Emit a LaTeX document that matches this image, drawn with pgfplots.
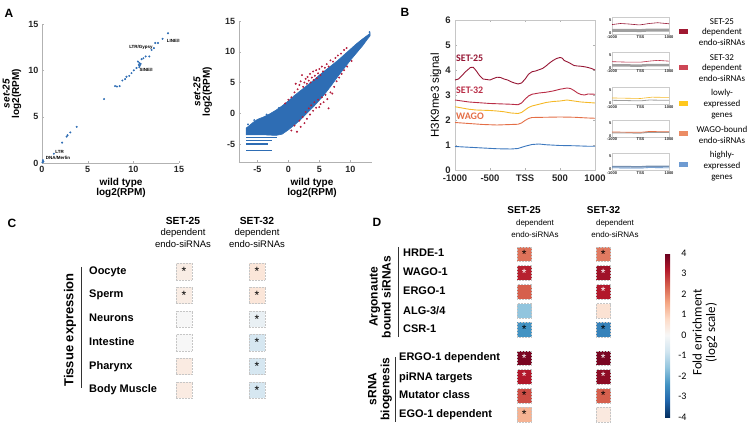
\documentclass[border=0pt]{standalone}
\usepackage{pgfplots}
\pgfplotsset{compat=1.18}
\usepackage{fontspec}
\setmainfont{Liberation Sans}
\newfontfamily\carl{Carlito}
\newcommand\fsz[2]{\fontsize{#1}{#2}\selectfont}

\definecolor{scblue}{RGB}{46,109,180}
\definecolor{scred}{RGB}{180,30,60}
\definecolor{c25}{RGB}{150,22,52}
\definecolor{c32}{RGB}{185,45,70}
\definecolor{cyel}{RGB}{245,185,40}
\definecolor{cora}{RGB}{228,110,70}
\definecolor{cblu}{RGB}{60,120,190}
\definecolor{l25}{RGB}{160,25,50}
\definecolor{l32}{RGB}{205,70,85}
\definecolor{lyel}{RGB}{255,200,30}
\definecolor{lora}{RGB}{235,140,100}
\definecolor{lblu}{RGB}{110,155,210}

\tikzset{myRow/.style={anchor=west, font=\bfseries\fsz{11}{11}, text height=8pt, text depth=2pt, inner sep=0pt}}

\pgfplotsset{
  colormap={rdbu}{rgb255=(5,48,97) rgb255=(33,102,172) rgb255=(67,147,195)
    rgb255=(146,197,222) rgb255=(209,229,240) rgb255=(247,247,247)
    rgb255=(253,219,199) rgb255=(244,165,130) rgb255=(214,96,77)
    rgb255=(178,24,43) rgb255=(103,0,31)},
  myPanel/.style={scale only axis, anchor=south west, clip=false,
    point meta=none,
    /pgf/number format/assume math mode=true,
    tick label style={font=\bfseries\fsz{9}{9}, text=black!85},
    axis line style={gray!60}, tick style={gray!60},
    tick align=inside, major tick length=2pt},
  mySmall/.style={myPanel, width=57pt, height=17pt,
    xmin=-1000, xmax=1000, ymin=0, ymax=6.5,
    xtick={-1000,0,1000}, xticklabels={-1000,TSS,1000}, ytick={0,5},
    tick label style={font=\bfseries\fsz{4}{4}, inner sep=0.5pt},
    yticklabel style={yshift=1.2pt}, xticklabel style={yshift=-0.3pt},
    major tick length=0pt, axis line style={gray!40}},
  myHeat/.style={scale only axis, anchor=south west, hide axis, clip=false,
    colormap name=rdbu, point meta min=-4, point meta max=4,
    xmin=-0.5, xmax=1.5},
  myCells/.style={scatter, only marks, mark=square*, mark size=#1,
    scatter/use mapped color={draw=gray!45, fill=mapped color},
    mark options={densely dotted, line width=0.5pt}},
  myStars/.style={draw=none, mark=none, point meta=none, nodes near coords={*},
    every node near coord/.append style={anchor=center, font=\fsz{12}{12}, text=#1}},
}

\begin{document}
\begin{tikzpicture}
\path[use as bounding box] (0,0) rectangle (754pt,428pt);

% panel letters
\node[font=\bfseries\fsz{12}{12}] at (9pt,415pt) {A};
\node[font=\bfseries\fsz{12}{12}] at (405pt,416pt) {B};
\node[font=\bfseries\fsz{12}{12}] at (12pt,205pt) {C};
\node[font=\bfseries\fsz{12}{12}] at (377pt,206pt) {D};

% ---------- A left: repeats ----------
\begin{axis}[myPanel, at={(42pt,265pt)}, width=137pt, height=139pt,
  xmin=0, xmax=15, ymin=0, ymax=15,
  axis x line*=bottom, axis y line*=left,
  x axis line style={-}, y axis line style={-},
  xtick={0,5,10,15}, ytick={0,5,10,15},
  xlabel={wild type\\log2(RPM)}, ylabel={\textit{set-25}\\log2(RPM)},
  xlabel style={at={(axis description cs:0.577,-0.18)}, anchor=center, align=center, font=\bfseries\fsz{10}{10.5}},
  ylabel style={at={(axis description cs:-0.22,0.5)}, anchor=center, align=center, font=\bfseries\fsz{10}{9.5}}]
\addplot[only marks, mark=*, mark size=0.8pt, scblue] coordinates {
 (0.05,0.07) (0.1,0.3) (0.15,0.15) (1.3,1.0) (2.2,2.2) (2.7,2.85) (2.8,3.0)
 (3.1,3.3) (3.8,3.9) (6.8,6.9) (8.0,8.3) (8.2,8.25) (8.5,8.3) (8.8,8.9)
 (9.1,9.05) (9.25,9.3) (9.55,9.4) (9.8,9.7) (10.05,10.0) (10.35,10.25)
 (10.6,10.6) (10.65,10.8) (10.5,10.95) (10.7,10.5) (10.65,10.35) (10.8,10.7)
 (10.9,11.2) (11.1,11.3) (11.35,11.5) (11.75,11.5) (12.0,12.2) (12.25,12.4)
 (12.4,12.95) (12.7,12.95) (13.2,13.4) (13.8,14.0)};
\node[anchor=west, font=\bfseries\fsz{4.5}{5}, inner sep=0.5pt] at (axis cs:13.6,13.2) {LINE/I};
\node[anchor=east, font=\bfseries\fsz{4.5}{5}, inner sep=0.5pt] at (axis cs:12.2,12.5) {LTR/Gypsy};
\node[anchor=west, font=\bfseries\fsz{4.5}{5}, inner sep=0.5pt] at (axis cs:10.6,10.0) {SINE/I};
\node[anchor=west, font=\bfseries\fsz{4.5}{5}, inner sep=0.5pt] at (axis cs:1.4,1.2) {LTR};
\node[anchor=west, font=\bfseries\fsz{4.5}{5}, inner sep=0.5pt] at (axis cs:0.35,0.5) {DNA/Merlin};
\end{axis}

% ---------- A right: small RNAs ----------
\begin{axis}[myPanel, at={(238.7pt,265.5pt)}, width=133.3pt, height=141.5pt,
  xmin=-8, xmax=13.5, ymin=-8, ymax=15,
  axis x line*=bottom, axis y line*=left,
  x axis line style={-}, y axis line style={-},
  xtick={-5,0,5,10}, ytick={-5,0,5,10,15},
  xlabel={wild type\\log2(RPM)}, ylabel={\textit{set-25}\\log2(RPM)},
  xlabel style={at={(axis description cs:0.55,-0.18)}, anchor=center, align=center, font=\bfseries\fsz{10}{10.5}},
  ylabel style={at={(axis description cs:-0.27,0.5)}, anchor=center, align=center, font=\bfseries\fsz{10}{9.5}}]
\addplot[fill=scblue, draw=scblue, line width=0.6pt] coordinates {
 (13.2,13.0) (12.0,12.1) (11.0,11.3) (10.0,10.4) (9.0,9.5) (8.0,8.6) (7.0,7.8)
 (6.0,7.0) (5.0,6.2) (4.0,5.3) (3.0,4.5) (2.0,3.7) (1.0,2.9) (0.0,2.0)
 (-1.0,1.2) (-2.0,0.5) (-3.0,-0.1) (-4.0,-0.6) (-5.0,-1.0) (-5.7,-1.5)
 (-6.4,-2.1) (-6.8,-2.4) (-6.8,-3.5) (-4.0,-3.5) (-2.0,-3.6) (-1.0,-3.4)
 (0.0,-2.7) (1.0,-1.9) (2.0,-1.0) (3.0,0.0) (4.0,1.0) (5.0,2.1) (6.0,3.3)
 (7.0,4.6) (8.0,6.0) (9.0,7.3) (10.0,8.6) (11.0,9.8) (12.0,11.0) (12.8,12.1)
 (13.2,12.6)} -- cycle;
\addplot[scblue, line width=1.3pt] coordinates {(-6.8,-3.9) (-1.8,-3.9)};
\addplot[scblue, line width=1.3pt] coordinates {(-6.8,-4.4) (-2.6,-4.4)};
\addplot[scblue, line width=1.3pt] coordinates {(-6.8,-5.0) (-3.2,-5.0)};
\addplot[scblue, line width=1.3pt] coordinates {(-6.8,-6.0) (-2.6,-6.0)};
\addplot[only marks, mark=*, mark size=0.7pt, scblue] coordinates {
 (13.1,13.2) (12.6,12.3) (-6.5,-1.8) (-5.5,-1.1) (-3.5,-0.2) (-1.5,0.9)};
\addplot[only marks, mark=*, mark size=0.75pt, scred] coordinates {
 (1.0,3.4) (1.5,3.9) (1.8,4.6) (2.0,5.2) (2.2,6.2) (2.4,4.3) (2.6,5.0) (2.8,5.6)
 (3.0,4.8) (3.1,5.9) (3.3,5.3) (3.5,6.4) (3.6,5.0) (3.8,5.8) (4.0,6.8) (4.1,5.4)
 (4.3,6.1) (4.5,7.0) (4.6,5.7) (4.8,6.5) (5.0,7.2) (5.2,6.2) (5.4,7.6) (5.6,6.8)
 (5.9,7.4) (6.2,8.0) (6.5,7.6) (6.8,8.6) (7.2,8.4) (7.6,9.0) (8.0,9.4) (8.5,9.7)
 (9.0,10.3) (9.4,10.6) (0.5,2.6) (0.0,2.2) (-0.5,1.6) (1.2,4.8)
 (0.5,-2.8) (1.0,-2.0) (1.4,-3.0) (1.8,-1.2) (2.0,-2.2) (2.3,-0.6) (2.6,-1.6)
 (2.8,0.2) (3.0,-0.9) (3.3,0.8) (3.5,-0.2) (3.7,1.3) (4.0,0.4) (4.2,1.8)
 (4.5,0.9) (4.8,2.2) (5.0,1.0) (5.2,1.5) (5.4,2.6) (5.7,1.8) (6.0,3.0)
 (6.3,2.3) (6.5,0.8) (6.8,3.4) (7.1,3.2) (7.4,4.3) (7.8,5.2) (8.2,5.8)
 (8.6,6.4) (9.0,7.0) (9.5,7.6) (10.2,8.5)};
\end{axis}

% ---------- B main ----------
\begin{axis}[myPanel, at={(455pt,257.5pt)}, width=140pt, height=150pt,
  xmin=-1000, xmax=1000, ymin=0, ymax=6,
  xtick={-1000,-500,0,500,1000}, xticklabels={-1000,-500,TSS,500,1000},
  ytick={0,1,2,3,4,5,6}, axis line style={gray!45},
  tick label style={font=\bfseries\fsz{9.5}{10}},
  xticklabel style={yshift=-1.2pt}, yticklabel style={xshift=-0.8pt},
  ylabel={H3K9me3 signal},
  ylabel style={at={(axis description cs:-0.136,0.5)}, anchor=center, font=\fsz{11.5}{12}}]
\addplot[c25, line width=0.9pt] coordinates {
 (-1000,3.62) (-950,3.66) (-900,3.8) (-850,3.95) (-780,4.12) (-740,4.13)
 (-700,4.0) (-650,3.8) (-600,3.66) (-550,3.64) (-500,3.62) (-450,3.68)
 (-400,3.73) (-350,3.72) (-300,3.66) (-250,3.62) (-200,3.55) (-150,3.5)
 (-100,3.46) (-50,3.5) (0,3.65) (50,3.85) (100,3.95) (150,3.98) (200,4.03)
 (250,4.08) (300,4.18) (350,4.3) (400,4.4) (450,4.48) (500,4.52) (530,4.5)
 (560,4.4) (600,4.35) (650,4.28) (700,4.2) (750,4.18) (800,4.17) (850,4.15)
 (900,4.12) (950,4.08) (1000,4.02)};
\addplot[c32, line width=0.9pt] coordinates {
 (-1000,2.82) (-900,2.78) (-800,2.74) (-700,2.72) (-600,2.70) (-500,2.68)
 (-400,2.67) (-300,2.66) (-200,2.65) (-100,2.63) (-50,2.7) (0,2.85) (50,2.98)
 (100,3.05) (200,3.1) (300,3.13) (400,3.18) (500,3.25) (600,3.3) (650,3.28)
 (700,3.2) (750,3.1) (800,3.04) (850,3.02) (900,3.06) (1000,3.05)};
\addplot[cyel, line width=0.9pt] coordinates {
 (-1000,2.55) (-900,2.5) (-800,2.45) (-700,2.42) (-600,2.41) (-500,2.4)
 (-400,2.38) (-300,2.35) (-200,2.3) (-100,2.28) (-50,2.32) (0,2.42) (50,2.52)
 (100,2.58) (200,2.65) (300,2.72) (400,2.76) (500,2.78) (600,2.82) (700,2.78)
 (800,2.74) (900,2.72) (1000,2.7)};
\addplot[cora, line width=0.9pt] coordinates {
 (-1000,1.92) (-800,1.88) (-600,1.84) (-400,1.82) (-200,1.84) (-100,1.85)
 (-50,1.9) (0,2.0) (50,2.08) (100,2.12) (300,2.13) (500,2.14) (700,2.13)
 (900,2.1) (1000,2.09)};
\addplot[cblu, line width=0.9pt] coordinates {
 (-1000,0.96) (-800,0.93) (-600,0.9) (-400,0.87) (-200,0.86) (-100,0.88)
 (0,0.97) (100,1.04) (200,1.06) (300,1.03) (500,1.0) (700,0.99) (900,0.97)
 (1000,0.97)};
\end{axis}
\node[anchor=west, inner sep=0pt, font=\carl\bfseries\fsz{10}{10}, text=c25] at (456pt,369.7pt) {SET-25};
\node[anchor=west, inner sep=0pt, font=\carl\bfseries\fsz{10}{10}, text=c32] at (456pt,337.3pt) {SET-32};
\node[anchor=west, inner sep=0pt, font=\carl\bfseries\fsz{10}{10}, text=cora] at (456pt,312pt) {WAGO};

% ---------- B small panels ----------
\begin{axis}[mySmall, at={(612pt,393.5pt)}]
\addplot[gray!75, line width=3pt] coordinates {(-1000,1.6) (-500,1.6) (0,1.5) (300,1.7) (1000,1.7)};
\addplot[c25, line width=0.6pt] coordinates {(-1000,3.8) (-700,4.2) (-400,4.0) (-100,3.7) (0,3.7) (300,4.2) (600,4.5) (1000,4.1)};
\end{axis}
\begin{axis}[mySmall, at={(612pt,359pt)}]
\addplot[gray!75, line width=2.5pt] coordinates {(-1000,1.4) (0,1.3) (300,1.5) (1000,1.5)};
\addplot[c32, line width=0.6pt] coordinates {(-1000,2.8) (-400,2.6) (0,2.6) (300,3.0) (600,3.3) (1000,3.0)};
\end{axis}
\begin{axis}[mySmall, at={(612pt,323.5pt)}]
\addplot[gray!75, line width=0.8pt] coordinates {(-1000,1.6) (0,1.4) (300,1.7) (1000,1.6)};
\addplot[cyel, line width=0.6pt] coordinates {(-1000,2.5) (0,2.3) (400,2.8) (1000,2.7)};
\end{axis}
\begin{axis}[mySmall, at={(612pt,291pt)}]
\addplot[gray!75, line width=1pt] coordinates {(-1000,1.6) (0,1.5) (300,1.8) (1000,1.8)};
\addplot[cora, line width=0.7pt] coordinates {(-1000,1.9) (0,1.8) (300,2.1) (1000,2.0)};
\end{axis}
\begin{axis}[mySmall, at={(612pt,257.5pt)}]
\addplot[lblu!60!gray, line width=1.5pt] coordinates {(-1000,1.5) (0,1.4) (300,1.6) (1000,1.6)};
\addplot[cblu, line width=0.6pt] coordinates {(-1000,1.0) (0,0.9) (300,1.1) (1000,1.0)};
\end{axis}

% legend of B
\fill[l25] (679pt,393.5pt) rectangle (688pt,398.5pt);
\fill[l32] (679pt,357.5pt) rectangle (688pt,362.5pt);
\fill[lyel] (679pt,321.5pt) rectangle (688pt,326.5pt);
\fill[lora] (679pt,291.5pt) rectangle (688pt,296.5pt);
\fill[lblu] (679pt,260.5pt) rectangle (688pt,265.5pt);
\node[align=center, inner sep=0pt, font=\carl\fsz{9}{10.7}] at (722pt,396pt) {SET-25\\dependent\\endo-siRNAs};
\node[align=center, inner sep=0pt, font=\carl\fsz{9}{10.7}] at (722pt,360pt) {SET-32\\dependent\\endo-siRNAs};
\node[align=center, inner sep=0pt, font=\carl\fsz{9}{10.7}] at (722pt,324pt) {lowly-\\expressed\\genes};
\node[align=center, inner sep=0pt, font=\carl\fsz{9}{10.7}] at (722pt,293pt) {WAGO-bound\\endo-siRNAs};
\node[align=center, inner sep=0pt, font=\carl\fsz{9}{10.7}] at (722pt,262pt) {highly-\\expressed\\genes};

% ---------- C: tissue expression ----------
\node[font=\bfseries\fsz{10.3}{10.3}] at (183pt,207pt) {SET-25};
\node[font=\bfseries\fsz{10.3}{10.3}] at (257pt,207pt) {SET-32};
\node[align=center, font=\fsz{9.5}{12}] at (183pt,190pt) {dependent\\endo-siRNAs};
\node[align=center, font=\fsz{9.5}{12}] at (257pt,190pt) {dependent\\endo-siRNAs};
\node[myRow] at (89pt,156pt) {Oocyte};
\node[myRow] at (89pt,133pt) {Sperm};
\node[myRow] at (89pt,109pt) {Neurons};
\node[myRow] at (89pt,85pt) {Intestine};
\node[myRow] at (89pt,61pt) {Pharynx};
\node[myRow] at (89pt,38pt) {Body Muscle};
\draw[black!80, line width=0.8pt] (81pt,161pt) -- (81pt,40pt);
\node[rotate=90, font=\bfseries\fsz{13}{13}] at (70pt,98pt) {Tissue expression};

\begin{axis}[myHeat, at={(147.5pt,26.2pt)}, width=146pt, height=142pt, ymin=-5.5, ymax=0.5]
\addplot[myCells=8.2pt, point meta=explicit] coordinates {
 (0,0) [0.3] (0,-1) [0.3] (0,-2) [0] (0,-3) [0] (0,-4) [0.35] (0,-5) [0.35]
 (1,0) [0.5] (1,-1) [0.5] (1,-2) [-0.3] (1,-3) [-0.7] (1,-4) [-0.7] (1,-5) [-0.7]};
\addplot[myStars=black] coordinates {(0,0) (0,-1) (1,0) (1,-1) (1,-2) (1,-3) (1,-4) (1,-5)};
\end{axis}

% ---------- D: small RNA classes ----------
\node[font=\bfseries\fsz{10}{10}] at (524pt,218pt) {SET-25};
\node[font=\bfseries\fsz{10}{10}] at (603.5pt,218pt) {SET-32};
\node[align=center, font=\fsz{8}{12}] at (535pt,199pt) {dependent\\endo-siRNAs};
\node[align=center, font=\fsz{8}{12}] at (615pt,199pt) {dependent\\endo-siRNAs};
\node[myRow] at (403pt,174pt) {HRDE-1};
\node[myRow] at (403pt,155pt) {WAGO-1};
\node[myRow] at (403pt,136pt) {ERGO-1};
\node[myRow] at (403pt,116pt) {ALG-3/4};
\node[myRow] at (403pt,98pt) {CSR-1};
\node[myRow] at (399pt,70pt) {ERGO-1 dependent};
\node[myRow] at (399pt,51pt) {piRNA targets};
\node[myRow] at (399pt,33pt) {Mutator class};
\node[myRow] at (399pt,14pt) {EGO-1 dependent};
\draw[black!80, line width=0.8pt] (398pt,181pt) -- (398pt,91pt);
\draw[black!80, line width=0.8pt] (395pt,71pt) -- (395pt,6pt);
\node[rotate=90, align=center, font=\bfseries\fsz{12}{13}] at (380pt,131pt) {Argonaute\\bound siRNAs};
\node[rotate=90, align=center, font=\bfseries\fsz{12}{13}] at (380pt,39pt) {sRNA\\biogenesis};

\begin{axis}[myHeat, at={(484.8pt,3.9pt)}, width=158pt, height=179.55pt, ymin=-9, ymax=0.5]
\addplot[myCells=7.2pt, point meta=explicit] coordinates {
 (0,0) [2.2] (0,-1) [3.1] (0,-2) [2.4] (0,-3) [-1.6] (0,-4) [-2.4]
 (0,-5.5) [3.8] (0,-6.5) [3.2] (0,-7.5) [2.6] (0,-8.5) [1.4]
 (1,0) [2.1] (1,-1) [3.4] (1,-2) [3.2] (1,-3) [0.6] (1,-4) [-2.7]
 (1,-5.5) [3.8] (1,-6.5) [3.6] (1,-7.5) [2.4] (1,-8.5) [0.4]};
\addplot[myStars=black] coordinates {(0,0) (1,0) (0,-4) (1,-4) (0,-7.5) (1,-7.5) (0,-8.5)};
\addplot[myStars=white] coordinates {(0,-1) (1,-1) (1,-2) (0,-5.5) (1,-5.5) (0,-6.5) (1,-6.5)};
\end{axis}

% colour bar
\begin{axis}[at={(656.7pt,11pt)}, anchor=south west, scale only axis,
  width=5pt, height=164pt, xmin=0, xmax=1, ymin=0, ymax=1,
  axis line style={draw=none}, ticks=none,
  colormap name=rdbu, point meta min=-4, point meta max=4,
  colorbar,
  colorbar style={at={(parent axis.south west)}, anchor=south west,
    scale only axis, width=5pt, height=164pt,
    ytick={-4,-3,-2,-1,0,1,2,3,4}, yticklabel pos=right,
    major tick length=0pt, axis line style={draw=none},
    /pgf/number format/assume math mode=true,
    yticklabel style={font=\carl\fsz{10}{10}, anchor=east, inner sep=0pt, xshift=16.5pt}}]
\end{axis}
\node[rotate=90, align=center, font=\carl\fsz{13}{13.4}] at (705pt,95.5pt) {Fold enrichment\\(log2 scale)};

\end{tikzpicture}
\end{document}
